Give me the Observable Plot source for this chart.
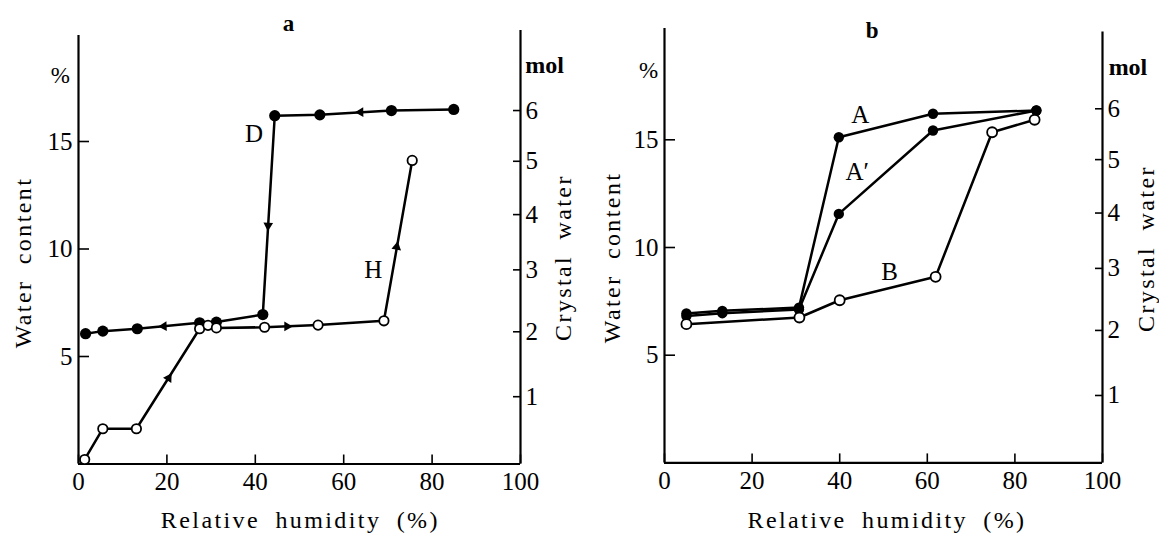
<!DOCTYPE html>
<html><head><meta charset="utf-8">
<script src="https://cdn.jsdelivr.net/npm/d3@7"></script>
<script src="https://cdn.jsdelivr.net/npm/@observablehq/plot@0.6"></script>
<style>
body{margin:0;background:#fff;}
#wrap{display:flex;width:1159px;height:533px;overflow:hidden;}
#wrap svg{overflow:visible;font-family:"Liberation Serif","DejaVu Serif",serif !important;}
#wrap svg text{font-family:"Liberation Serif","DejaVu Serif",serif !important;}
#wrap svg text.spaced{letter-spacing:2.4px;word-spacing:7px;}
</style></head><body><div id="wrap"></div>
<script>
// ---- shared axis ticks ----
const xTicks = [0, 20, 40, 60, 80, 100];
const leftTicks = [5, 10, 15];
const molTickLabels = [1, 2, 3, 4, 5, 6];
const molTickPct = [3.13, 6.15, 9.03, 11.6, 14.08, 16.44]; // water content (%) at each mol tick

// ---- panel a ----
const aDesX = [84.9, 70.8, 54.6, 44.4, 41.7, 31.2, 27.4, 13.3, 5.5, 1.6];
const aDesY = [16.49, 16.44, 16.24, 16.2, 6.95, 6.6, 6.57, 6.29, 6.18, 6.06];
const aHydX = [1.4, 5.5, 13.1, 27.4, 29.3, 31.2, 42.1, 54.2, 69.1, 75.5];
const aHydY = [0.21, 1.64, 1.64, 6.29, 6.45, 6.33, 6.36, 6.46, 6.66, 14.12];
const aArrowX = [63.8, 42.9, 19.3, 20.4, 47.2, 72.0];
const aArrowY = [16.36, 11.09, 6.41, 4.0, 6.4, 10.1];
const aArrowAngle = [-91, 183, -92, 32, 90, 10];
const aLabelText = ["D", "H"];
const aLabelX = [39.7, 66.7];
const aLabelY = [15.36, 9.01];

// ---- panel b ----
const bAX = [5.0, 13.2, 30.7, 39.8, 61.3, 84.9];
const bAY = [6.94, 7.06, 7.21, 15.12, 16.21, 16.36];
const bA2X = [5.0, 13.2, 30.7, 39.8, 61.3, 84.9];
const bA2Y = [6.82, 6.95, 7.12, 11.56, 15.43, 16.36];
const bBX = [5.0, 30.8, 40.0, 61.9, 74.8, 84.5];
const bBY = [6.44, 6.75, 7.55, 8.64, 15.35, 15.93];
const bLabelText = ["A", "A\u2032", "B"];
const bLabelX = [44.7, 44.0, 51.4];
const bLabelY = [16.13, 13.5, 8.87];

const xTitle = "Relative humidity (%)";
const yLeftTitle = "Water content";
const yRightTitle = "Crystal water";

const pts = (xs, ys) => xs.map((x, i) => ({x, y: ys[i]}));
const FONT = "Liberation Serif";

function panel(cfg) {
  const titles = [
    {t: xTitle, x: cfg.xt[0], y: cfg.xt[1], r: 0},
    {t: yLeftTitle, x: cfg.yl[0], y: cfg.yl[1], r: -90},
    {t: yRightTitle, x: cfg.yr[0], y: cfg.yr[1], r: -90}
  ];
  const svg = Plot.plot({
    width: cfg.width, height: 533,
    marginLeft: cfg.ml, marginRight: cfg.mr, marginTop: cfg.mt, marginBottom: cfg.mb,
    x: {domain: [0, 100]},
    y: {domain: [0, 20]},
    style: "font-family: 'Liberation Serif', serif; background: white; color: black; overflow: visible;",
    marks: [
      Plot.axisX({ticks: xTicks, tickSize: -9, tickPadding: 17, label: null, fontSize: 25, fontFamily: FONT, strokeWidth: 1.6, tickFormat: d => d}),
      Plot.axisY({anchor: "left", ticks: leftTicks, tickSize: -11, tickPadding: 17, label: null, fontSize: 25, fontFamily: FONT, strokeWidth: 1.6, tickFormat: d => d}),
      Plot.axisY({anchor: "right", ticks: molTickPct, tickSize: -8, tickPadding: 13, label: null, fontSize: 25, fontFamily: FONT, strokeWidth: 1.6,
        tickFormat: d => molTickLabels[molTickPct.indexOf(d)]}),
      Plot.ruleY([0], {strokeWidth: 2.2}),
      Plot.ruleX([0], {y1: 0, y2: cfg.leftTop, strokeWidth: 2.2}),
      Plot.ruleX([100], {y1: 0, y2: cfg.rightTop, strokeWidth: 2.2}),
      ...cfg.lines.map(l => Plot.line(l, {x: "x", y: "y", strokeWidth: 2.5, stroke: "black"})),
      ...cfg.filled.map(f => Plot.dot(f, {x: "x", y: "y", r: cfg.rf, fill: "black"})),
      ...cfg.open.map(o => Plot.dot(o, {x: "x", y: "y", r: cfg.ro, fill: "white", stroke: "black", strokeWidth: 1.8})),
      Plot.dot(cfg.arrows, {x: "x", y: "y", rotate: "a", symbol: "triangle", r: 3.6, fill: "black"}),
      Plot.text(cfg.labels, {x: "x", y: "y", text: "t", fontSize: 25, fontFamily: FONT}),
      Plot.text([cfg.title], {x: "x", y: "y", text: "t", fontSize: 23, fontWeight: "bold", fontFamily: FONT}),
      Plot.text([{t: "%", x: cfg.pct[0], y: cfg.pct[1]}], {x: "x", y: "y", text: "t", fontSize: 23, fontFamily: FONT}),
      Plot.text([{t: "mol", x: cfg.mol[0], y: cfg.mol[1]}], {x: "x", y: "y", text: "t", fontSize: 24, fontWeight: "bold", textAnchor: "start", fontFamily: FONT}),
      Plot.text(titles, {x: "x", y: "y", text: "t", rotate: "r", fontSize: 24, fontFamily: FONT})
    ]
  });
  const names = new Set([xTitle, yLeftTitle, yRightTitle]);
  d3.select(svg).selectAll("text").filter(function() { return names.has(this.textContent); })
    .classed("spaced", true);
  return svg;
}

const wrap = document.getElementById("wrap");
wrap.appendChild(panel({
  width: 580, ml: 78, mr: 60, mt: 33.5, mb: 69.5,
  leftTop: 19.93, rightTop: 20.16,
  lines: [pts(aDesX, aDesY), pts(aHydX, aHydY)],
  filled: [pts(aDesX, aDesY)],
  open: [pts(aHydX, aHydY)],
  rf: 5.6, ro: 4.7,
  arrows: aArrowX.map((x, i) => ({x, y: aArrowY[i], a: aArrowAngle[i]})),
  labels: aLabelText.map((t, i) => ({t, x: aLabelX[i], y: aLabelY[i]})),
  title: {t: "a", x: 47.5, y: 20.49},
  pct: [-4.1, 18.07], mol: [101.1, 18.53],
  xt: [50.2, -2.63], yl: [-12.4, 9.37], yr: [109.7, 9.6]
}));
wrap.appendChild(panel({
  width: 579, ml: 84, mr: 57, mt: 31.6, mb: 70.6,
  leftTop: 20.17, rightTop: 20.0,
  lines: [pts(bAX, bAY), pts(bA2X, bA2Y), pts(bBX, bBY)],
  filled: [pts(bAX, bAY), pts(bA2X, bA2Y)],
  open: [pts(bBX, bBY)],
  rf: 5.2, ro: 5.0,
  arrows: [],
  labels: bLabelText.map((t, i) => ({t, x: bLabelX[i], y: bLabelY[i]})),
  title: {t: "b", x: 47.4, y: 20.07},
  pct: [-3.65, 18.22], mol: [101.4, 18.37],
  xt: [50.8, -2.66], yl: [-11.9, 9.54], yr: [110.0, 9.95]
}));
</script></body></html>
